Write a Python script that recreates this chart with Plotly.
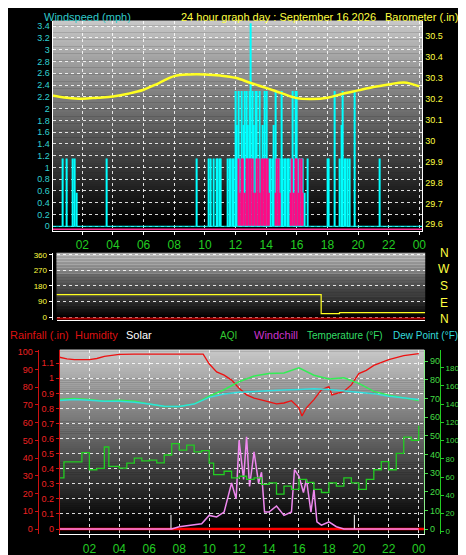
import plotly.graph_objects as go

# ---------------- data ----------------
hours = list(range(25))
xtick_vals = [2,4,6,8,10,12,14,16,18,20,22,24]
xtick_text = ["02","04","06","08","10","12","14","16","18","20","22","00"]

baro = [30.216,30.205,30.200,30.205,30.211,30.224,30.243,30.275,30.308,30.316,30.316,30.311,
        30.300,30.275,30.252,30.227,30.203,30.199,30.205,30.224,30.240,30.256,30.268,30.278,30.259]

gust_t = [0.71,0.99,1.4,1.5,1.6,3.58,9.48,10.25,10.4,10.55,10.75,10.85,10.95,11.05,
          11.5,11.6,11.7,11.8,11.9,12.0,12.1,12.2,12.3,12.4,12.5,12.6,12.7,12.8,12.9,13.0,13.1,13.2,
          13.3,13.4,13.5,13.6,13.7,13.8,13.9,14.0,14.1,14.2,14.3,14.4,14.5,14.6,14.7,14.8,14.9,15.0,
          15.1,15.2,15.3,15.4,15.5,15.6,15.7,15.8,15.9,16.0,16.1,16.2,16.3,16.4,16.5,16.7,
          18.0,18.1,18.5,18.8,18.9,19.0,19.1,19.2,19.3,19.45,19.8,21.4]
gust_v = [1.15,1.15,1.15,1.15,0.57,1.15,1.15,1.15,1.15,1.15,1.15,1.15,1.15,1.15,
          1.15,1.15,1.15,1.15,1.15,2.3,1.72,2.3,1.15,2.3,1.72,2.3,2.3,1.72,2.3,3.45,2.3,1.72,
          2.3,2.3,1.15,2.3,1.15,1.72,2.3,2.3,1.15,1.15,1.15,1.15,1.72,2.3,1.15,1.15,1.15,2.3,
          1.15,1.15,1.15,1.15,1.15,1.15,2.3,1.15,2.3,2.3,1.15,1.15,1.15,1.15,0.57,1.15,
          1.15,1.15,2.3,1.15,1.72,2.3,1.15,1.15,1.15,1.15,2.3,1.15]

avg_t = [12.2,12.3,12.4,12.5,12.6,12.7,12.8,12.9,13.0,13.1,13.2,13.3,13.4,13.5,13.6,13.7,13.8,13.9,
         14.0,14.1,14.2,14.6,14.7,14.8,14.9,15.6,15.7,15.8,15.9,16.0,16.1,16.2,16.3,16.4]
avg_v = [1.15,0.57,1.15,1.15,0.57,1.15,1.15,1.15,1.15,1.15,0.57,0.57,1.15,1.15,0.57,1.15,1.15,1.15,
         1.15,1.15,0.57,0.57,1.15,1.15,0.57,0.57,1.15,0.57,1.15,1.15,0.57,1.15,1.15,0.57]

dir_t = [0.3,17.6,17.6,18.8,18.8,24.4]
dir_v = [130,130,20,20,25,25]

hum_t = [0,0.5,1,2,2.5,3,4,5,9.6,10,10.5,11,11.5,12,12.5,13,14,14.5,15,15.5,16,16.2,16.5,17,17.5,18,18.2,18.5,19,19.5,20,20.5,21,22,23,24]
hum_v = [96.9,96,95.6,95.6,96.2,97.4,98.5,98.7,98.7,93.2,88.6,86.8,84,79.4,75.7,73.9,71.7,70.6,71.1,72.4,68.4,63.8,68.4,73,78.5,80.3,75.7,76.5,77.6,81.3,87.7,89.5,92.3,95.6,97.8,99]

temp_v = [69.4,70,69.4,68.5,69,68.5,67.1,65.7,65.7,67.1,71.2,74.7,79,82,83.4,83.7,86.4,82.5,80.4,81.1,78.1,73.8,71.7,70.3,68.9]
dew_v = [68.9,69.5,69,68.5,68.5,68,67,65.8,65.7,67,70.6,72.4,73.3,73.8,74.3,74.5,74.8,75.2,74.8,74.1,73.4,72.6,71.2,70.3,69.4]

aqi_t = [0,0.3,1,1.5,2,2.5,3,3.3,4,4.5,5,5.5,6,6.5,7,7.5,8,8.5,9,9.5,10,10.3,11,11.5,12,12.5,13,13.5,14,14.5,15,15.5,16,16.5,17,17.5,18,18.5,19,19.5,20,20.5,21,21.5,22,22.5,23,23.5,24]
aqi_v = [27.4,36,36,41,31.8,32.5,44,33.6,32.7,35.3,38,36.5,37,35.5,39.7,45.8,42.3,45,41.4,42,35.3,29.2,31,27.4,28.3,26.6,27.4,24,24.8,18.7,23,21.3,26.6,25,21.3,19.6,24.8,23,27.4,24.8,21.3,26.6,31.8,36.2,31.8,40.6,49.3,47.6,55.4]

wc_t = [0,7.5,8,9,9.5,10,10.5,11,11.5,11.8,12,12.3,12.5,12.7,13,13.3,13.5,13.7,14,14.5,15,15.5,15.7,16,16.3,16.5,16.8,17,17.2,17.5,18,18.5,19,24]
wc_v = [0,0,1.3,2.2,3,7.7,6.8,9.6,26,17,50,28,52,24,43.6,26,32,9.6,9.6,13,7.7,9.6,33.5,29.8,20.6,28,9.6,22.4,4,2.2,4,1.3,0,0]

solar_t = [7.45,7.45,None,19.7,19.7]
solar_v = [0,8,None,0,8]

# ---------------- figure ----------------
fig = go.Figure()
GRID = dict(showgrid=True, gridcolor="rgba(255,255,255,0.85)", griddash="dot", gridwidth=1)
FONT = "Liberation Sans Narrow, Liberation Sans, Arial"

def bg(xref, yref, top=200):
    n = 90
    for i in range(n):
        f0, f1 = i/n, (i+1)/n
        g = int(top*max(0, (f1-0.05))/0.95)
        fig.add_shape(type="rect", xref=xref, yref=yref, x0=0, x1=1, y0=f0, y1=f1+0.002,
                      fillcolor=f"rgb({g},{g},{g})", line_width=0, layer="below")
bg("x domain","y domain"); bg("x2 domain","y3 domain"); bg("x3 domain","y4 domain")

# top panel
fig.add_trace(go.Scatter(x=[0.06,24.2], y=[0,0], mode="lines", line=dict(color="#00ffff", width=1), xaxis="x", yaxis="y"))
fig.add_trace(go.Scatter(x=[0.06,24.2], y=[-0.05,-0.05], mode="lines", line=dict(color="#ff3399", width=1.5), xaxis="x", yaxis="y"))
fig.add_trace(go.Bar(x=gust_t, y=gust_v, width=0.07, marker=dict(color="#00ffff", line_width=0), xaxis="x", yaxis="y"))
fig.add_trace(go.Bar(x=avg_t, y=avg_v, width=0.08, marker=dict(color="#ff0a84", line_width=0), xaxis="x", yaxis="y"))
fig.add_trace(go.Scatter(x=hours, y=baro, mode="lines", line=dict(color="#ffff20", width=2.5, shape="spline"), xaxis="x", yaxis="y2"))

# middle panel
fig.add_trace(go.Scatter(x=[0.3,24.4], y=[-8,-8], mode="lines", line=dict(color="#b00000", width=2), xaxis="x2", yaxis="y3"))
fig.add_trace(go.Scatter(x=dir_t, y=dir_v, mode="lines", line=dict(color="#ffff20", width=1.2), xaxis="x2", yaxis="y3"))

# bottom panel
fig.add_trace(go.Scatter(x=[0,24.37], y=[0,0], mode="lines", line=dict(color="#ff0000", width=2.5), xaxis="x3", yaxis="y5"))
fig.add_trace(go.Scatter(x=solar_t, y=solar_v, mode="lines", line=dict(color="#ffffff", width=1), xaxis="x3", yaxis="y4"))
fig.add_trace(go.Scatter(x=aqi_t, y=aqi_v, mode="lines", line=dict(color="#22cc22", width=1.3, shape="hv"), xaxis="x3", yaxis="y6"))
fig.add_trace(go.Scatter(x=wc_t, y=wc_v, mode="lines", line=dict(color="#ee88ee", width=1.5), xaxis="x3", yaxis="y4"))
fig.add_trace(go.Scatter(x=hum_t, y=hum_v, mode="lines", line=dict(color="#ee1111", width=1.3), xaxis="x3", yaxis="y4"))
fig.add_trace(go.Scatter(x=hours, y=temp_v, mode="lines", line=dict(color="#33ee55", width=1.5), xaxis="x3", yaxis="y6"))
fig.add_trace(go.Scatter(x=hours, y=dew_v, mode="lines", line=dict(color="#33dddd", width=1.5), xaxis="x3", yaxis="y6"))
fig.add_trace(go.Scatter(x=[None], y=[None], xaxis="x3", yaxis="y7"))

xcommon = dict(tickvals=xtick_vals, ticktext=xtick_text, tickfont=dict(color="#22cc22", size=12, family=FONT),
               showline=True, linecolor="white", ticks="outside", tickcolor="white", ticklen=3, zeroline=False, **GRID)
tf = lambda c, s=9: dict(color=c, size=s, family=FONT)
fig.update_layout(
    width=466, height=555, margin=dict(l=0,r=0,t=0,b=0), paper_bgcolor="black", plot_bgcolor="black",
    showlegend=False, barmode="overlay",
    xaxis=dict(domain=[0.0966,0.897], range=[0.06,24.2], anchor="y", **xcommon),
    yaxis=dict(domain=[0.6,0.982], range=[-0.08,3.49], tickvals=[i/5 for i in range(18)],
               ticktext=["0","0.2","0.4","0.6","0.8","1","1.2","1.4","1.6","1.8","2","2.2","2.4","2.6","2.8","3","3.2","3.4"],
               tickfont=tf("#30d0d0"), showline=True, linecolor="white", zeroline=False, **GRID),
    yaxis2=dict(overlaying="y", side="right", anchor="x", range=[29.568,30.572], tickvals=[29.6,29.7,29.8,29.9,30,30.1,30.2,30.3,30.4,30.5],
                ticktext=["29.6","29.7","29.8","29.9","30","30.1","30.2","30.3","30.4","30.5"],
                tickfont=tf("#ffff40"), showgrid=False, zeroline=False, showline=True, linecolor="white"),
    xaxis2=dict(domain=[0.105,0.903], range=[0.3,24.4], anchor="y3", showticklabels=False, ticks="", showline=True, linecolor="white",
                showgrid=False, zeroline=False),
    yaxis3=dict(domain=[0.438,0.560], range=[-18,371], tickvals=[0,90,180,270,360], tickfont=tf("#ffff40", 8),
                ticks="outside", tickcolor="white", ticklen=3, showline=True, linecolor="white", zeroline=False, **GRID),
    xaxis3=dict(domain=[0.112,0.901], range=[0.02,24.37], anchor="y5", **xcommon),
    yaxis4=dict(range=[-2.94,101.1], tickvals=list(range(0,101,10)), tickfont=tf("#ee2222"), anchor="free", position=0.064,
                overlaying="y5", showgrid=False, zeroline=False, showline=True, linecolor="#cc1111", ticks="outside", tickcolor="#cc1111", ticklen=3),
    yaxis5=dict(domain=[0.0486,0.384], range=[-0.0346,1.189], tickvals=[i/10 for i in range(12)],
                ticktext=["0","0.1","0.2","0.3","0.4","0.5","0.6","0.7","0.8","0.9","1","1.1"], anchor="x3",
                tickfont=tf("#ee2222"), showline=True, linecolor="#cc1111", ticks="outside", tickcolor="#cc1111", ticklen=3, zeroline=False, **GRID),
    yaxis6=dict(overlaying="y5", side="right", anchor="x3", range=[-2.8,96.1], tickvals=list(range(0,91,10)), tickfont=tf("#44dd44"),
                showgrid=False, zeroline=False, showline=True, linecolor="#88ee88", ticks="outside", tickcolor="#44dd44", ticklen=3),
    yaxis7=dict(overlaying="y5", side="right", anchor="free", position=0.935, range=[-2.86,199.7], tickvals=list(range(0,201,20)),
                tickfont=tf("#44dd44", 8), showgrid=False, zeroline=False, showline=True, linecolor="#22cc22", ticks="outside",
                tickcolor="#22cc22", ticklen=3),
)

def ann(x, y, text, color, size=11, anchor="left"):
    fig.add_annotation(x=x/466, y=1-y/555, xref="paper", yref="paper", text=text, showarrow=False,
                       font=dict(color=color, size=size, family=FONT), xanchor=anchor, yanchor="middle")
ann(34, 6, "Windspeed (mph)", "#30c8c8")
ann(172, 6, "24 hour graph day : September 16 2026", "#ffff40")
ann(456, 6, "Barometer (.in)", "#ffff40", anchor="right")
ann(0, 327, "Rainfall (.in)", "#dd1111")
ann(66, 327, "Humidity", "#dd1111")
ann(117, 327, "Solar", "#ffffff")
ann(212, 327, "AQI", "#33cc33", size=10)
ann(246, 327, "Windchill", "#cc33cc")
ann(300, 327, "Temperature (°F)", "#33dd66", size=10)
ann(456, 327, "Dew Point (°F)", "#33dddd", size=10, anchor="right")
for yy, t in zip([244, 260, 278, 295, 311], ["N","W","S","E","N"]):
    ann(440, yy, t, "#ffff40", size=12, anchor="center")

fig.write_html("out.html")
